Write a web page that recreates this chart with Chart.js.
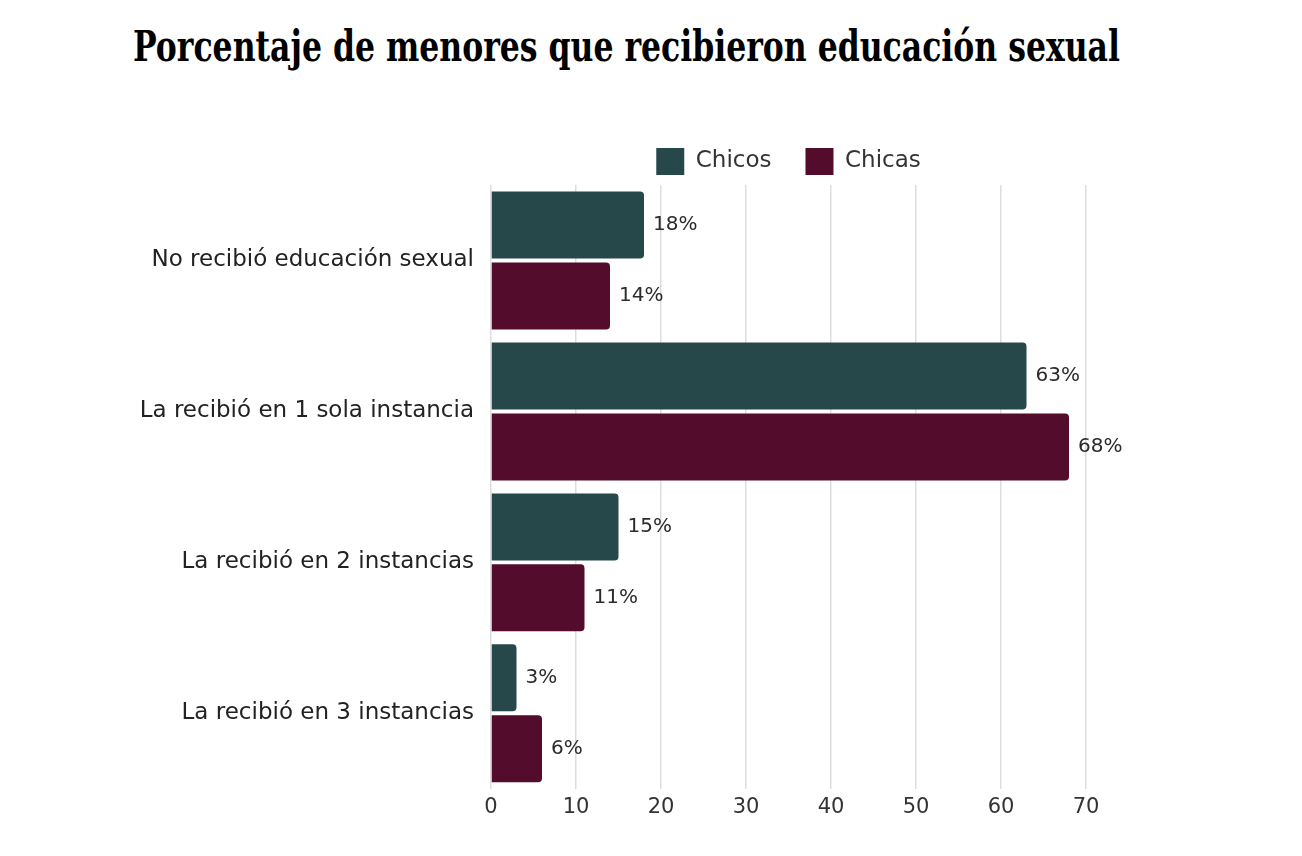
<!DOCTYPE html>
<html><head><meta charset="utf-8">
<script src="https://cdn.jsdelivr.net/npm/chart.js@4.4.1/dist/chart.umd.min.js"></script>
<style>
html,body{margin:0;padding:0;background:#fff;}
#wrap{position:relative;width:1302px;height:856px;overflow:hidden;}
#title{position:absolute;left:133px;top:26px;font-family:'DejaVu Serif';font-weight:bold;font-size:42px;line-height:42px;white-space:nowrap;transform-origin:0 0;color:#000;}
canvas{position:absolute;left:0;top:0;}
</style></head><body>
<div id="wrap"><div id="title">Porcentaje de menores que recibieron educación sexual</div><canvas id="c" width="1302" height="856"></canvas></div>
<script>
const categories = ['No recibió educación sexual', 'La recibió en 1 sola instancia', 'La recibió en 2 instancias', 'La recibió en 3 instancias'];
const seriesNames = ['Chicos', 'Chicas'];
const chicos = [18, 63, 15, 3];
const chicas = [14, 68, 11, 6];
const xTickValues = [0, 10, 20, 30, 40, 50, 60, 70];

// fit title width
const t = document.getElementById('title');
const w = t.getBoundingClientRect().width;
t.style.transform = 'scaleX(' + (987 / w) + ')';

const FONT = "'DejaVu Sans'";
const valueLabels = {
  id: 'valueLabels',
  afterDatasetsDraw(chart) {
    const ctx = chart.ctx;
    ctx.save();
    ctx.font = '20px ' + FONT;
    ctx.fillStyle = '#2b2b2b';
    ctx.textBaseline = 'middle';
    ctx.textAlign = 'left';
    chart.data.datasets.forEach((ds, i) => {
      chart.getDatasetMeta(i).data.forEach((el, j) => {
        ctx.fillText(ds.data[j] + '%', el.x + 9, el.y);
      });
    });
    ctx.restore();
  }
};

new Chart(document.getElementById('c'), {
  type: 'bar',
  data: {
    labels: categories,
    datasets: [
      { label: seriesNames[0], data: chicos, backgroundColor: '#27484a', borderRadius: 4, borderSkipped: 'start', categoryPercentage: 0.94, barPercentage: 0.944 },
      { label: seriesNames[1], data: chicas, backgroundColor: '#530c2b', borderRadius: 4, borderSkipped: 'start', categoryPercentage: 0.94, barPercentage: 0.944 }
    ]
  },
  options: {
    indexAxis: 'y',
    responsive: false,
    animation: false,
    layout: { padding: { top: 114, right: 216, bottom: 30, left: 0 } },
    plugins: {
      legend: {
        position: 'top',
        fullSize: false,
        labels: { boxWidth: 28, boxHeight: 27, padding: 34, color: '#333', font: { family: FONT, size: 23 } }
      },
      tooltip: { enabled: false }
    },
    scales: {
      x: {
        min: 0, max: 70,
        afterBuildTicks(scale) { scale.ticks = xTickValues.map(v => ({ value: v })); },
        grid: { color: '#dddddd', lineWidth: 1.5, drawTicks: false },
        border: { display: false },
        ticks: { color: '#333', font: { family: FONT, size: 21 }, padding: 6 }
      },
      y: {
        grid: { display: false, drawTicks: false },
        border: { display: false },
        ticks: { color: '#222', font: { family: FONT, size: 23 }, padding: 17 },
        afterFit(scale) { scale.width = 491; }
      }
    }
  },
  plugins: [valueLabels]
});
</script>
</body></html>
